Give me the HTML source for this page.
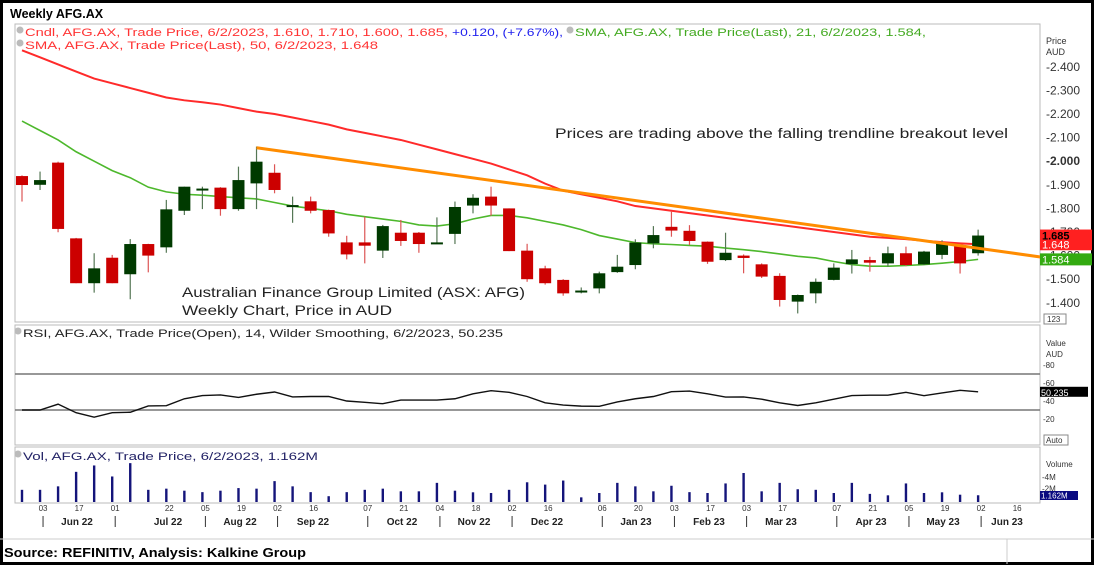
<!DOCTYPE html>
<html><head><meta charset="utf-8">
<style>
html,body{margin:0;padding:0;background:#fff;}
svg{display:block;font-family:"Liberation Sans",Arial,sans-serif;}
</style></head>
<body>
<svg id="chart" width="1096" height="566" viewBox="0 0 1096 566" xmlns="http://www.w3.org/2000/svg">
  <rect x="0" y="0" width="1096" height="566" fill="#fff"/>
  <rect x="1.5" y="1.5" width="1091" height="562" fill="none" stroke="#000" stroke-width="3"/>
  <text x="10" y="18" font-size="12.5" font-weight="bold" fill="#000">Weekly AFG.AX</text>
  <rect x="15" y="24" width="1025" height="298" fill="none" stroke="#bbb" stroke-width="1"/>
  <rect x="15" y="325" width="1025" height="120" fill="none" stroke="#bbb" stroke-width="1"/>
  <rect x="15" y="447" width="1025" height="56" fill="none" stroke="#bbb" stroke-width="1"/>
  <line x1="0" y1="539" x2="1094" y2="539" stroke="#ccc"/>
  <line x1="1007" y1="539" x2="1007" y2="564" stroke="#ccc"/>
  <text x="4" y="557" font-size="13" font-weight="bold" fill="#000" textLength="302" lengthAdjust="spacingAndGlyphs">Source: REFINITIV, Analysis: Kalkine Group</text>

  <g font-size="11">
    <circle cx="20" cy="30" r="3.5" fill="#bbb"/>
    <text x="25" y="36" fill="#ff3333" textLength="423" lengthAdjust="spacingAndGlyphs">Cndl, AFG.AX, Trade Price, 6/2/2023, 1.610, 1.710, 1.600, 1.685,</text>
    <text x="452" y="36" fill="#2222ee" textLength="111" lengthAdjust="spacingAndGlyphs">+0.120, (+7.67%),</text>
    <circle cx="570" cy="30" r="3.5" fill="#bbb"/>
    <text x="575" y="36" fill="#44aa22" textLength="351" lengthAdjust="spacingAndGlyphs">SMA, AFG.AX, Trade Price(Last),  21, 6/2/2023, 1.584,</text>
    <circle cx="20" cy="43" r="3.5" fill="#bbb"/>
    <text x="25" y="49" fill="#ff3333" textLength="353" lengthAdjust="spacingAndGlyphs">SMA, AFG.AX, Trade Price(Last),  50, 6/2/2023, 1.648</text>
  </g>
  <g font-size="11">
    <circle cx="18" cy="331" r="3.5" fill="#bbb"/>
    <text x="23" y="337" fill="#222" textLength="480" lengthAdjust="spacingAndGlyphs">RSI, AFG.AX, Trade Price(Open),  14, Wilder Smoothing, 6/2/2023, 50.235</text>
  </g>
  <g font-size="11">
    <circle cx="18" cy="454" r="3.5" fill="#bbb"/>
    <text x="23" y="460" fill="#222266" textLength="295" lengthAdjust="spacingAndGlyphs">Vol, AFG.AX, Trade Price, 6/2/2023, 1.162M</text>
  </g>

  <text x="555" y="138" font-size="13.5" fill="#222" textLength="453" lengthAdjust="spacingAndGlyphs">Prices are trading above the falling trendline breakout level</text>
  <text x="182" y="297" font-size="14" fill="#222" textLength="343" lengthAdjust="spacingAndGlyphs">Australian Finance Group Limited (ASX: AFG)</text>
  <text x="182" y="315" font-size="14" fill="#222" textLength="210" lengthAdjust="spacingAndGlyphs">Weekly Chart, Price in AUD</text>

  <g id="marks"></g>
</svg>
<script>
const opens  = [1.937,1.900,1.994,1.673,1.483,1.591,1.521,1.649,1.635,1.790,1.880,1.888,1.797,1.906,1.951,1.810,1.830,1.793,1.656,1.656,1.621,1.697,1.697,1.649,1.692,1.812,1.850,1.800,1.621,1.546,1.497,1.448,1.461,1.530,1.560,1.652,1.722,1.705,1.659,1.581,1.600,1.563,1.514,1.405,1.440,1.497,1.564,1.581,1.567,1.610,1.563,1.603,1.645,1.610];
const highs  = [1.940,1.956,1.998,1.675,1.610,1.603,1.670,1.650,1.836,1.892,1.892,1.890,1.977,2.062,1.987,1.850,1.850,1.795,1.684,1.765,1.730,1.751,1.700,1.762,1.829,1.860,1.892,1.800,1.650,1.557,1.500,1.465,1.532,1.603,1.669,1.725,1.786,1.729,1.660,1.697,1.605,1.567,1.525,1.435,1.503,1.567,1.624,1.595,1.638,1.638,1.620,1.665,1.648,1.710];
const lows   = [1.829,1.878,1.699,1.483,1.443,1.483,1.415,1.529,1.612,1.772,1.797,1.769,1.790,1.797,1.864,1.739,1.779,1.680,1.584,1.567,1.590,1.641,1.612,1.649,1.649,1.779,1.769,1.619,1.489,1.477,1.430,1.440,1.440,1.527,1.542,1.631,1.680,1.645,1.565,1.577,1.525,1.505,1.384,1.355,1.398,1.495,1.524,1.532,1.553,1.555,1.560,1.585,1.524,1.600];
const closes = [1.899,1.920,1.713,1.483,1.546,1.483,1.649,1.600,1.796,1.892,1.884,1.797,1.920,1.998,1.878,1.814,1.790,1.694,1.605,1.642,1.725,1.662,1.649,1.656,1.806,1.845,1.812,1.619,1.500,1.483,1.440,1.452,1.525,1.553,1.655,1.687,1.706,1.662,1.574,1.612,1.590,1.511,1.412,1.433,1.489,1.549,1.584,1.570,1.610,1.560,1.617,1.652,1.567,1.685];
const sma21  = [2.17,2.13,2.09,2.04,2.00,1.96,1.93,1.89,1.87,1.86,1.856,1.85,1.845,1.84,1.825,1.81,1.80,1.79,1.775,1.765,1.755,1.745,1.73,1.725,1.735,1.755,1.77,1.77,1.76,1.745,1.73,1.71,1.685,1.67,1.655,1.65,1.647,1.643,1.64,1.632,1.625,1.617,1.607,1.597,1.59,1.575,1.562,1.555,1.555,1.558,1.562,1.568,1.575,1.584];
const sma50  = [2.47,2.44,2.41,2.38,2.35,2.33,2.31,2.29,2.27,2.258,2.25,2.24,2.225,2.21,2.20,2.185,2.17,2.155,2.135,2.12,2.105,2.09,2.07,2.05,2.03,2.01,1.99,1.965,1.94,1.905,1.875,1.86,1.845,1.83,1.81,1.80,1.79,1.78,1.77,1.76,1.75,1.74,1.73,1.72,1.71,1.70,1.69,1.68,1.675,1.67,1.663,1.657,1.652,1.648];
const rsi    = [30,30,36.5,27,22,27,27.5,34.5,34.8,42.5,46,46.7,44,47.5,50,44.5,45,45,40,38.5,37,41,41,41,42.5,48,51.5,49.6,45,38,35.5,34.3,34.1,39,42.5,45,50.4,51,48,44.4,44.5,42,38,35,38,42,46,46.5,46.5,49.6,45.9,49,51.9,50.235];
const volumes= [2.1,2.1,2.7,5.2,6.3,4.4,6.7,2.1,2.3,1.95,1.7,1.95,2.4,2.3,3.6,2.7,1.7,1.0,1.7,2.1,2.3,1.84,1.84,3.3,1.95,1.67,1.55,2.1,3.4,3.0,3.7,0.8,1.55,3.3,2.7,1.84,2.8,1.7,1.55,3.2,5.0,1.84,3.3,2.2,2.1,1.55,3.3,1.4,1.15,3.2,1.55,1.67,1.26,1.162];
const priceTicks = [2.4,2.3,2.2,2.1,2.0,1.9,1.8,1.7,1.6,1.5,1.4];
const rsiTicks = [80,60,40,20];
const volTicks = [4,2];
const trendStart = {i:13, p:2.057};
const trendEnd = {i:57.7, p:1.581};
const dayLabels = [[1,"03"],[3,"17"],[5,"01"],[8,"22"],[10,"05"],[12,"19"],[14,"02"],[16,"16"],[19,"07"],[21,"21"],[23,"04"],[25,"18"],[27,"02"],[29,"16"],[32,"06"],[34,"20"],[36,"03"],[38,"17"],[40,"03"],[42,"17"],[45,"07"],[47,"21"],[49,"05"],[51,"19"],[53,"02"],[55,"16"]];
const monthLabels = [["Jun 22",77],["Jul 22",168],["Aug 22",240],["Sep 22",313],["Oct 22",402],["Nov 22",474],["Dec 22",547],["Jan 23",636],["Feb 23",709],["Mar 23",781],["Apr 23",871],["May 23",943],["Jun 23",1007]];
const monthSeps = [1,5,10,14,19,23,27,32,36,40,45,49,53];

const NS="http://www.w3.org/2000/svg";
const g=document.getElementById('marks');
const xs=i=>22+i*18.04;
const yp=p=>114+(2.2-p)*236;
const yr=v=>383+(60-v)*0.9;
const yv=m=>502-m*5.8;
function mk(t,a,parent){const e=document.createElementNS(NS,t);for(const k in a)e.setAttribute(k,a[k]);(parent||g).appendChild(e);return e;}

priceTicks.forEach(p=>{
  const t=mk('text',{x:1046,y:yp(p)+4,'font-size':12,fill:'#333','font-weight':p===2.0?'bold':'normal'});
  
  
  t.textContent='-'+p.toFixed(3);
});
mk('text',{x:1046,y:44,'font-size':9,fill:'#333'}).textContent='Price';
mk('text',{x:1046,y:55,'font-size':9,fill:'#333'}).textContent='AUD';
mk('rect',{x:1044,y:314,width:22,height:10,fill:'#fff',stroke:'#888'});
mk('text',{x:1047,y:322,'font-size':8,fill:'#333'}).textContent='123';

const s50=mk('polyline',{points:sma50.map((v,i)=>xs(i)+','+yp(v)).join(' '),fill:'none',stroke:'#ff2a2a','stroke-width':2});


const s21=mk('polyline',{points:sma21.map((v,i)=>xs(i)+','+yp(v)).join(' '),fill:'none',stroke:'#4db82c','stroke-width':1.6});



opens.forEach((o,i)=>{
  const c=closes[i],up=c>=o,col=up?'#003a00':'#cc0000',x=xs(i);
  const grp=mk('g',{});
  
  
  mk('line',{x1:x,x2:x,y1:yp(highs[i]),y2:yp(lows[i]),stroke:up?'#557755':'#dd5555','stroke-width':1.2},grp);
  const t=yp(Math.max(o,c)),b=yp(Math.min(o,c));
  mk('rect',{x:x-6,y:t,width:12,height:Math.max(b-t,2),fill:col},grp);
});

const tl=mk('line',{x1:xs(trendStart.i),y1:yp(trendStart.p),x2:xs(trendEnd.i),y2:yp(trendEnd.p),stroke:'#ff8c00','stroke-width':3});



const last=closes.length-1;
mk('rect',{x:1040,y:yp(closes[last])-6,width:52,height:yp(sma50[last])-yp(closes[last])+12,fill:'#ff2020'});
mk('rect',{x:1040,y:yp(sma21[last])-6,width:52,height:12,fill:'#33aa11'});
const tg1=mk('text',{x:1042,y:yp(closes[last])+4,'font-size':11,'font-weight':'bold',fill:'#000'});tg1.textContent=closes[last].toFixed(3);


mk('text',{x:1042,y:yp(sma50[last])+4,'font-size':11,fill:'#fff'}).textContent=sma50[last].toFixed(3);
mk('text',{x:1042,y:yp(sma21[last])+4,'font-size':11,fill:'#fff'}).textContent=sma21[last].toFixed(3);

mk('line',{x1:15,x2:1040,y1:yr(70),y2:yr(70),stroke:'#777','stroke-width':1.5});
mk('line',{x1:15,x2:1040,y1:yr(30),y2:yr(30),stroke:'#777','stroke-width':1.5});
const rl=mk('polyline',{points:rsi.map((v,i)=>xs(i)+','+yr(v)).join(' '),fill:'none',stroke:'#111','stroke-width':1.4});


rsiTicks.forEach(v=>{mk('text',{x:1043,y:yr(v)+3,'font-size':8,fill:'#333'}).textContent='-'+v;});
mk('text',{x:1046,y:346,'font-size':8,fill:'#333'}).textContent='Value';
mk('text',{x:1046,y:357,'font-size':8,fill:'#333'}).textContent='AUD';
mk('rect',{x:1040,y:yr(rsi[last])-5,width:48,height:10,fill:'#000'});
mk('text',{x:1041,y:yr(rsi[last])+4,'font-size':9,fill:'#fff'}).textContent=rsi[last].toFixed(3);
mk('rect',{x:1044,y:435,width:24,height:10,fill:'#fff',stroke:'#888'});
mk('text',{x:1046,y:443,'font-size':8,fill:'#333'}).textContent='Auto';

volumes.forEach((v,i)=>{
  const r=mk('rect',{x:xs(i)-1.2,y:yv(v),width:2.4,height:v*5.8,fill:'#14147a'});
  
  
});
mk('text',{x:1046,y:467,'font-size':8,fill:'#333'}).textContent='Volume';
volTicks.forEach(m=>{mk('text',{x:1042,y:yv(m)+1,'font-size':8,fill:'#333'}).textContent='-'+m+'M';});
mk('rect',{x:1040,y:491,width:38,height:9,fill:'#0a0a80'});
mk('text',{x:1041,y:498.5,'font-size':8,fill:'#fff'}).textContent='1.162M';

dayLabels.forEach(([i,t])=>{
  mk('text',{x:xs(i)+3,y:511,'font-size':8,fill:'#333','text-anchor':'middle'}).textContent=t;
});
monthLabels.forEach(([t,x])=>{
  const e=mk('text',{x:x,y:525,'font-size':10,'font-weight':'bold',fill:'#222','text-anchor':'middle'});
  
  
  e.textContent=t;
});
monthSeps.forEach(i=>{mk('line',{x1:xs(i)+3,x2:xs(i)+3,y1:516,y2:527,stroke:'#333'});});
</script>
</body></html>
